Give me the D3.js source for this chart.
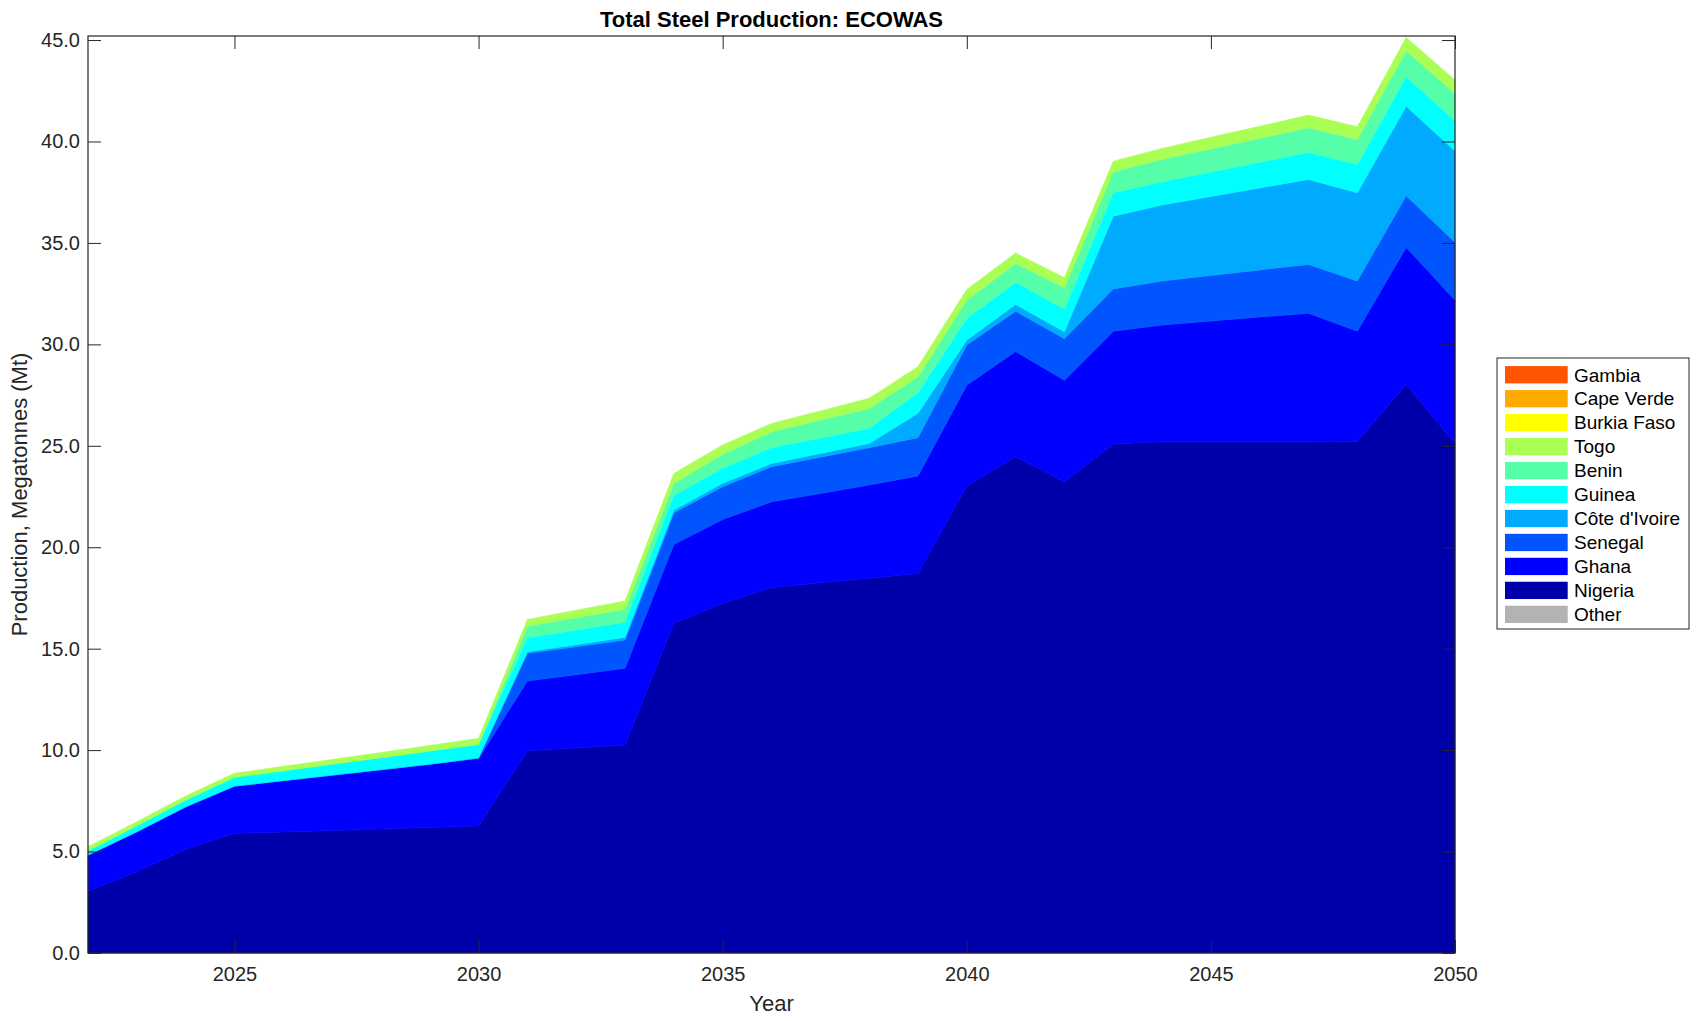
<!DOCTYPE html>
<html>
<head>
<meta charset="utf-8">
<script src="https://cdn.jsdelivr.net/npm/d3@7"></script>
<style>
  html, body { margin: 0; padding: 0; background: #fff; }
  svg { display: block; font-family: "Liberation Sans", Arial, Helvetica, sans-serif; }
</style>
</head>
<body>
<svg id="chart" width="1700" height="1021"></svg>
<script>
// ---- data (Mt) ----
const years = d3.range(2022, 2051);
const other    = years.map(() => 0);
const nigeria  = [3.06, 4.01, 5.11, 5.90, 5.97, 6.04, 6.11, 6.18, 6.26, 9.97, 10.10, 10.25, 16.25, 17.23, 18.02, 18.25, 18.47, 18.71, 23.02, 24.46, 23.23, 25.09, 25.20, 25.20, 25.20, 25.20, 25.23, 28.03, 25.12];
const ghana    = [1.77, 1.97, 2.10, 2.33, 2.53, 2.73, 2.93, 3.13, 3.33, 3.44, 3.62, 3.78, 3.89, 4.14, 4.22, 4.40, 4.60, 4.80, 4.97, 5.19, 5.00, 5.56, 5.75, 5.95, 6.15, 6.33, 5.42, 6.75, 7.06];
const senegal  = [0, 0, 0, 0, 0, 0, 0, 0, 0.03, 1.36, 1.38, 1.40, 1.56, 1.61, 1.73, 1.79, 1.84, 1.89, 1.98, 1.98, 2.05, 2.08, 2.17, 2.25, 2.32, 2.41, 2.47, 2.55, 2.85];
const coteIvoire = [0, 0, 0, 0, 0, 0, 0, 0, 0, 0.08, 0.10, 0.13, 0.13, 0.17, 0.16, 0.18, 0.21, 1.20, 0.24, 0.34, 0.34, 3.59, 3.75, 3.89, 4.04, 4.19, 4.35, 4.41, 4.50];
const guinea   = [0.21, 0.29, 0.33, 0.43, 0.48, 0.54, 0.59, 0.65, 0.66, 0.69, 0.72, 0.74, 0.74, 0.74, 0.78, 0.76, 0.74, 1.02, 1.07, 1.09, 1.12, 1.15, 1.15, 1.21, 1.27, 1.33, 1.40, 1.45, 1.49];
const benin    = [0, 0, 0, 0, 0, 0, 0, 0, 0, 0.58, 0.61, 0.65, 0.58, 0.69, 0.78, 0.89, 0.98, 0.79, 0.90, 0.93, 1.05, 1.04, 1.10, 1.14, 1.18, 1.22, 1.23, 1.28, 1.35];
const togo     = [0.20, 0.20, 0.20, 0.20, 0.22, 0.23, 0.25, 0.27, 0.30, 0.32, 0.37, 0.40, 0.49, 0.46, 0.41, 0.45, 0.50, 0.49, 0.53, 0.51, 0.50, 0.52, 0.54, 0.57, 0.59, 0.62, 0.63, 0.66, 0.66];
const burkinaFaso = years.map(() => 0);
const capeVerde   = years.map(() => 0);
const gambia      = years.map(() => 0);

// series in stacking order (bottom -> top)
const seriesNames  = ["Other", "Nigeria", "Ghana", "Senegal", "Côte d'Ivoire", "Guinea", "Benin", "Togo", "Burkia Faso", "Cape Verde", "Gambia"];
const seriesValues = [other, nigeria, ghana, senegal, coteIvoire, guinea, benin, togo, burkinaFaso, capeVerde, gambia];
const seriesColors = ["#b3b3b3", "#0000aa", "#0000ff", "#0055ff", "#00aaff", "#00ffff", "#55ffaa", "#aaff55", "#ffff00", "#ffaa00", "#ff5500"];

const yTicks = [0, 5, 10, 15, 20, 25, 30, 35, 40, 45];
const xTicks = [2025, 2030, 2035, 2040, 2045, 2050];
const yMax = 45.2;

// ---- layout ----
const svg = d3.select("#chart");
const mLeft = 88, mRight = 1455, mTop = 36, mBottom = 953;
const axisColor = "#262626";

const x = d3.scaleLinear().domain([2022, 2050]).range([mLeft, mRight]);
const y = d3.scaleLinear().domain([0, yMax]).range([mBottom, mTop]);

const table = years.map((yr, i) => {
  const row = { year: yr };
  seriesNames.forEach((n, k) => row[n] = seriesValues[k][i]);
  return row;
});
const stacked = d3.stack().keys(seriesNames)(table);

const area = d3.area()
  .x(d => x(d.data.year))
  .y0(d => y(d[0]))
  .y1(d => y(d[1]));

svg.append("g").selectAll("path")
  .data(stacked)
  .join("path")
  .attr("d", area)
  .attr("fill", (d, i) => seriesColors[i])
  .attr("stroke", (d, i) => d3.max(seriesValues[i]) > 0 ? seriesColors[i] : "none")
  .attr("stroke-width", 0.6);

// ---- axes ----
const tickLen = 13;
const fmt = d3.format(".1f");

const xAxisB = d3.axisBottom(x).tickValues(xTicks).tickSizeInner(-tickLen).tickSizeOuter(0).tickPadding(14).tickFormat(d3.format("d"));
const xAxisT = d3.axisTop(x).tickValues(xTicks).tickSizeInner(-tickLen).tickSizeOuter(0).tickFormat("");
const yAxisL = d3.axisLeft(y).tickValues(yTicks).tickSizeInner(-tickLen).tickSizeOuter(0).tickPadding(8).tickFormat(fmt);
const yAxisR = d3.axisRight(y).tickValues(yTicks).tickSizeInner(-tickLen).tickSizeOuter(0).tickFormat("");

function styleAxis(g) {
  g.select(".domain").remove();
  g.selectAll(".tick line").attr("stroke", axisColor).attr("stroke-width", 1);
  g.selectAll(".tick text").attr("fill", axisColor).attr("font-size", 20).attr("font-family", "\"Liberation Sans\", Arial, sans-serif");
}

svg.append("g").attr("transform", `translate(0,${mBottom})`).call(xAxisB).call(styleAxis);
svg.append("g").attr("transform", `translate(0,${mTop})`).call(xAxisT).call(styleAxis);
svg.append("g").attr("transform", `translate(${mLeft},0)`).call(yAxisL).call(styleAxis);
svg.append("g").attr("transform", `translate(${mRight},0)`).call(yAxisR).call(styleAxis);

svg.append("rect")
  .attr("x", mLeft).attr("y", mTop)
  .attr("width", mRight - mLeft).attr("height", mBottom - mTop)
  .attr("fill", "none").attr("stroke", axisColor).attr("stroke-width", 1.2);

// ---- labels ----
svg.append("text")
  .attr("x", (mLeft + mRight) / 2).attr("y", 27)
  .attr("text-anchor", "middle")
  .attr("font-size", 22).attr("font-weight", "bold").attr("fill", "#000")
  .text("Total Steel Production: ECOWAS");

svg.append("text")
  .attr("x", (mLeft + mRight) / 2).attr("y", 1011)
  .attr("text-anchor", "middle")
  .attr("font-size", 22).attr("fill", axisColor)
  .text("Year");

svg.append("text")
  .attr("transform", `translate(27,${(mTop + mBottom) / 2}) rotate(-90)`)
  .attr("text-anchor", "middle")
  .attr("font-size", 22).attr("fill", axisColor)
  .text("Production, Megatonnes (Mt)");

// ---- legend ----
const legX = 1497, legY = 358, legW = 192, legH = 271, rowH = 23.96;
const legend = svg.append("g");
legend.append("rect")
  .attr("x", legX).attr("y", legY).attr("width", legW).attr("height", legH)
  .attr("fill", "#fff").attr("stroke", axisColor).attr("stroke-width", 1);

const legendOrder = d3.range(seriesNames.length).reverse();
const items = legend.selectAll("g.item")
  .data(legendOrder)
  .join("g")
  .attr("class", "item")
  .attr("transform", (k, i) => `translate(0,${legY + 16.7 + i * rowH})`);

items.append("rect")
  .attr("x", legX + 8).attr("y", -8.6)
  .attr("width", 62.7).attr("height", 17.3)
  .attr("fill", k => seriesColors[k]);

items.append("text")
  .attr("x", legX + 77).attr("y", 6.8)
  .attr("font-size", 19).attr("fill", "#000")
  .text(k => seriesNames[k]);
</script>
</body>
</html>
